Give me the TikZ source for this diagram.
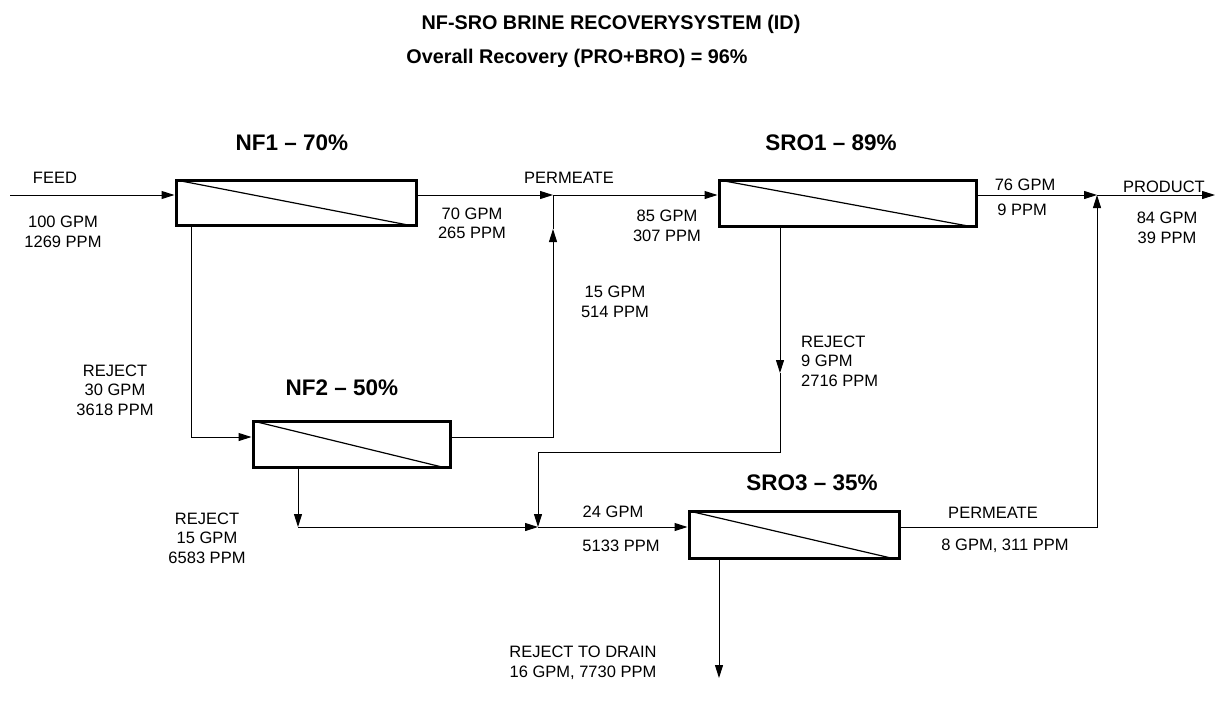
\documentclass[tikz,border=0pt]{standalone}
\usepackage{fontspec}
\setmainfont{Liberation Sans}
\usetikzlibrary{positioning,arrows.meta,calc}

\begin{document}
\begin{tikzpicture}[x=1pt,y=-1pt,
  unit/.style={draw, line width=3pt, inner sep=0pt,
    path picture={\draw[line width=1.2pt] (path picture bounding box.north west) -- ([xshift=-8pt]path picture bounding box.south east);}},
  flow/.style={line width=1pt, -{Triangle[length=13pt,width=8pt]}},
  pipe/.style={line width=1pt},
  lbl/.style={font=\fontsize{16.5}{19.5}\selectfont, align=center, inner sep=0pt},
  ttl/.style={font=\fontsize{22.5}{26}\selectfont\bfseries, inner sep=0pt},
  head/.style={font=\fontsize{19.8}{24}\selectfont\bfseries, inner sep=0pt}]
\useasboundingbox (0,0) rectangle (1222,702);

% titles
\node[head] (title) at (611,24) {NF-SRO BRINE RECOVERYSYSTEM (ID)};
\node[head] (overall) at (577,58) {Overall Recovery (PRO+BRO) = 96\%};

% membrane units
\node[unit, minimum width=240pt, minimum height=45pt] (nf1) at (296,202.5) {};
\node[unit, minimum width=197pt, minimum height=46pt] (nf2) at (351.5,444) {};
\node[unit, minimum width=257pt, minimum height=46pt] (sro1) at (847.5,203) {};
\node[unit, minimum width=210pt, minimum height=47pt] (sro3) at (794,534.5) {};
\node[ttl] (nf1t) at (292,143) {NF1 -- 70\%};
\node[ttl] (nf2t) at (342,388) {NF2 -- 50\%};
\node[ttl] (sro1t) at (831,143) {SRO1 -- 89\%};
\node[ttl] (sro3t) at (812,483) {SRO3 -- 35\%};

% junctions and free ends
\coordinate (feed) at (10,195);
\coordinate (j1) at (553,195);
\coordinate (j2) at (1097,195);
\coordinate (prod) at (1215,195);
\coordinate (r1) at (191,437);
\coordinate (m1) at (553,229);
\coordinate (r2) at (298,527);
\coordinate (j3) at (538,527);
\coordinate (m2) at (780,373);
\coordinate (k1) at (538,452);
\coordinate (drain) at (719,678);

% flows
\draw[flow] (feed) -- (feed -| nf1.west);
\draw[flow] (nf1.east |- feed) -- (j1);
\draw[flow] (j1) -- (j1 -| sro1.west);
\draw[flow] (sro1.east |- j1) -- (j2);
\draw[flow] (j2) -- (prod);
\draw[flow] (nf1.south -| r1) -- (r1) -- (r1 -| nf2.west);
\draw[flow] (nf2.east |- r1) -| (m1);
\draw[pipe] (m1) -- (j1);
\draw[flow] (nf2.south -| r2) -- (r2);
\draw[flow] (r2) -- (j3);
\draw[flow] (j3) -- (j3 -| sro3.west);
\draw[flow] (sro1.south -| m2) -- (m2);
\draw[flow] (m2) |- (k1) -- (j3);
\draw[flow] (sro3.east |- j3) -| (j2);
\draw[flow] (sro3.south -| drain) -- (drain);

% stream labels
\node[lbl] (feedl) at (55,178) {FEED};
\node[lbl] (feedq) at (63,232) {100 GPM\\1269 PPM};
\node[lbl] (perm1) at (569,178) {PERMEATE};
\node[lbl] (nf1q) at (472,223.5) {70 GPM\\265 PPM};
\node[lbl] (sro1in) at (667,226) {85 GPM\\307 PPM};
\node[lbl] (nf2q) at (615,302) {15 GPM\\514 PPM};
\node[lbl] (sro1f) at (1025,185) {76 GPM};
\node[lbl] (sro1c) at (1022,210) {9 PPM};
\node[lbl] (prodl) at (1164,187) {PRODUCT};
\node[lbl] (prodq) at (1167,228) {84 GPM\\39 PPM};
\node[lbl] (rej1) at (115,390) {REJECT\\30 GPM\\3618 PPM};
\node[lbl, align=left, anchor=west] (rej3) at (801,361) {REJECT\\ 9 GPM\\2716 PPM};
\node[lbl] (rej2) at (207,538) {REJECT\\15 GPM\\6583 PPM};
\node[lbl] (sro3f) at (613,512) {24 GPM};
\node[lbl] (sro3c) at (621,546) {5133 PPM};
\node[lbl] (perm3) at (993,513) {PERMEATE};
\node[lbl] (perm3q) at (1005,546) {8 GPM, 311 PPM};
\node[lbl] (drainl) at (583,663) {REJECT TO DRAIN\\16 GPM, 7730 PPM};
\end{tikzpicture}
\end{document}
